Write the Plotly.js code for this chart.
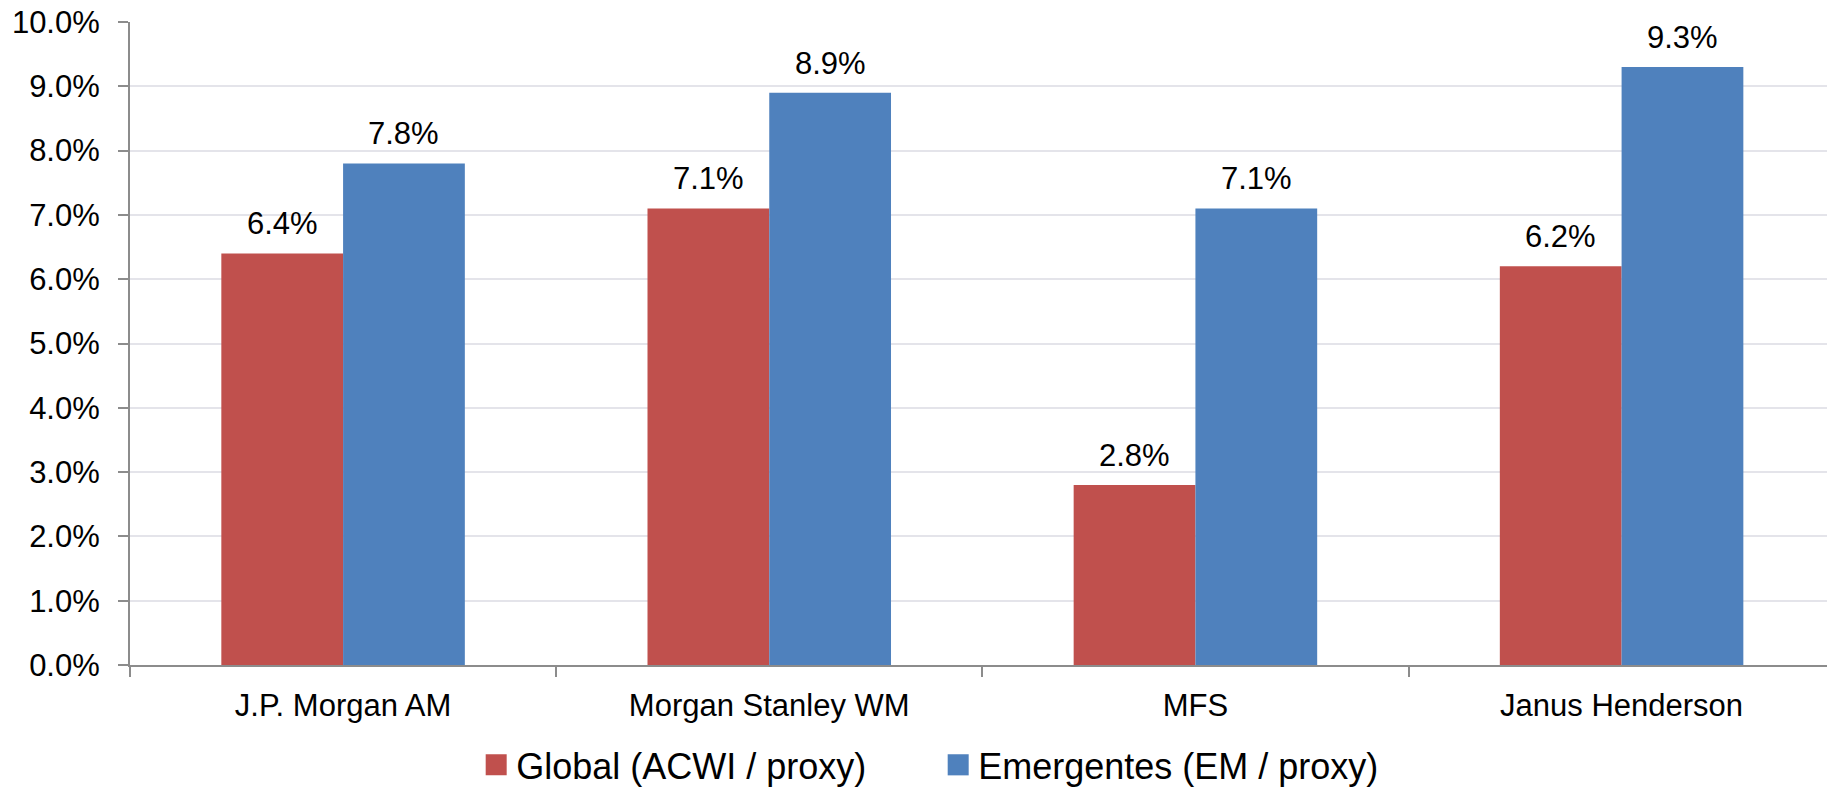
<!DOCTYPE html>
<html>
<head>
<meta charset="utf-8">
<script src="https://cdn.plot.ly/plotly-3.0.1.min.js"></script>
<style>
html,body{margin:0;padding:0;background:#fff;}
#chart{width:1827px;height:787px;}
</style>
</head>
<body>
<div id="chart"></div>
<script>
const categories = ["J.P. Morgan AM", "Morgan Stanley WM", "MFS", "Janus Henderson"];
const globalVals = [6.4, 7.1, 2.8, 6.2];
const emVals = [7.8, 8.9, 7.1, 9.3];
const seriesNames = ["Global (ACWI / proxy)", "Emergentes (EM / proxy)"];
const seriesColors = ["#c0504d", "#4f81bd"];
const yTickVals = [0,1,2,3,4,5,6,7,8,9,10];

const bargap = 0.4286;
const barW = (1 - bargap) / 2;
const FONT = '"Liberation Sans", Arial, sans-serif';

const traces = [
  {type:'bar', name:seriesNames[0], x:categories, y:globalVals,
   marker:{color:seriesColors[0], line:{width:0}}, hoverinfo:'skip'},
  {type:'bar', name:seriesNames[1], x:categories, y:emVals,
   marker:{color:seriesColors[1], line:{width:0}}, hoverinfo:'skip'}
];

const annotations = [];
[globalVals, emVals].forEach((vals, s) => {
  vals.forEach((v, i) => {
    annotations.push({
      x: i + (s === 0 ? -barW/2 : barW/2), y: v, xref:'x', yref:'y',
      text: v.toFixed(1) + '%', showarrow:false, yanchor:'bottom', yshift: 10,
      font:{family:FONT, size:31, color:'#000'}
    });
  });
});

const layout = {
  width:1827, height:787,
  paper_bgcolor:'#fff', plot_bgcolor:'#fff',
  margin:{l:130, r:0, t:22, b:122, autoexpand:false},
  barmode:'group', bargap:bargap, bargroupgap:0,
  showlegend:true,
  legend:{orientation:'h', xanchor:'left', x:0.204, yref:'container', yanchor:'middle', y:0.028,
    font:{family:FONT, size:36, color:'#000'},
    entrywidth:417, entrywidthmode:'pixels', bgcolor:'rgba(0,0,0,0)', borderwidth:0},
  xaxis:{type:'category', range:[-0.5, 3.482], showline:true, linecolor:'#8c8c8c', linewidth:2,
    ticks:'outside', tickson:'boundaries', ticklen:10, tickwidth:2, tickcolor:'#8c8c8c',
    showgrid:false, zeroline:false, ticklabelstandoff:12, automargin:false,
    tickfont:{family:FONT, size:31, color:'#000'}},
  yaxis:{range:[0,10], tickvals:yTickVals, ticktext:yTickVals.map(v=>v.toFixed(1)+'%'),
    showline:true, linecolor:'#8c8c8c', linewidth:2,
    ticks:'outside', ticklen:10, tickwidth:2, tickcolor:'#8c8c8c',
    showgrid:true, gridcolor:'#e4e4ea', gridwidth:2, zeroline:false,
    ticklabelstandoff:12, automargin:false,
    tickfont:{family:FONT, size:31, color:'#000'}},
  annotations:annotations
};

Plotly.newPlot('chart', traces, layout, {staticPlot:true, displayModeBar:false}).then(() => {
  document.querySelectorAll('.legendpoints path').forEach(p => {
    const t = p.getAttribute('transform') || '';
    p.setAttribute('transform', t + ' scale(1.75)');
  });
});
</script>
</body>
</html>
